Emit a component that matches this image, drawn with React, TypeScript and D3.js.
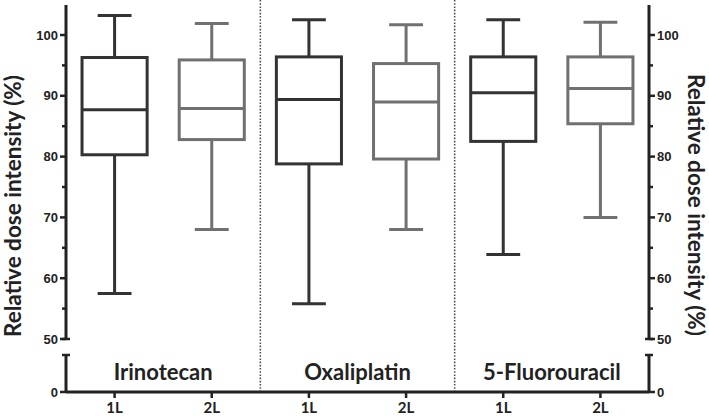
import React from "react";
import * as d3 from "d3";

const drugs = ["Irinotecan", "Oxaliplatin", "5-Fluorouracil"];
const lines = ["1L", "2L"];
const whiskerLow = [57.5, 68.0, 55.8, 68.0, 63.9, 70.0];
const q1 = [80.3, 82.8, 78.8, 79.6, 82.5, 85.4];
const median = [87.7, 87.9, 89.4, 89.0, 90.5, 91.2];
const q3 = [96.3, 95.9, 96.4, 95.3, 96.4, 96.4];
const whiskerHigh = [103.2, 101.9, 102.5, 101.7, 102.5, 102.1];
const majorTicks = [50, 60, 70, 80, 90, 100];
const minorTicks = [55, 65, 75, 85, 95];

const W = 709;
const H = 418;
const left = 66;
const right = 649;
const yTop = 5;
const yBase = 392;
const lowerTop = 355;

const DARK = "#333333";
const GRAY = "#707070";

export default function App() {
  const keys = drugs.flatMap((d) => lines.map((l) => d + "|" + l));
  const x = d3.scaleBand<string>().domain(keys).range([left, right]).paddingInner(0.33).paddingOuter(0.165);
  const xOuter = d3.scaleBand<string>().domain(keys).range([left, right]);
  const xDrug = d3.scaleBand<string>().domain(drugs).range([left, right]);
  const y = d3.scaleLinear().domain([50, 100]).range([339, 35]);
  const yLow = d3.scaleLinear().domain([0, 6]).range([yBase, lowerTop]);

  const bw = x.bandwidth();
  const axisFont = "'Liberation Sans', Arial, sans-serif";
  const labelFont = "Lato, 'Open Sans', sans-serif";

  const axis = (ax: number, dir: number) => (
    <g>
      <line x1={ax} x2={ax} y1={yTop} y2={y(50)} stroke="#222" strokeWidth={3} />
      <line x1={ax - 4} x2={ax + 4} y1={y(50)} y2={y(50)} stroke="#222" strokeWidth={2.5} />
      {majorTicks.map((t) => (
        <g key={t}>
          <line x1={ax} x2={ax + dir * 6} y1={y(t)} y2={y(t)} stroke="#222" strokeWidth={2.5} />
          <text
            x={ax + dir * 8}
            y={y(t)}
            dy="0.36em"
            textAnchor={dir < 0 ? "end" : "start"}
            fontFamily={axisFont}
            fontWeight="bold"
            fontSize={13}
            fill="#222"
          >
            {t}
          </text>
        </g>
      ))}
      {minorTicks.map((t) => (
        <line key={t} x1={ax} x2={ax + dir * 4} y1={y(t)} y2={y(t)} stroke="#222" strokeWidth={2.5} />
      ))}
      <line x1={ax} x2={ax} y1={yLow(6)} y2={yBase} stroke="#222" strokeWidth={3} />
      <line x1={ax - 4} x2={ax + 4} y1={yLow(6)} y2={yLow(6)} stroke="#222" strokeWidth={2.5} />
      <line x1={ax} x2={ax + dir * 6} y1={yLow(0)} y2={yLow(0)} stroke="#222" strokeWidth={2.5} />
      <text
        x={ax + dir * 8}
        y={yLow(0)}
        dy="0.36em"
        textAnchor={dir < 0 ? "end" : "start"}
        fontFamily={axisFont}
        fontWeight="bold"
        fontSize={13}
        fill="#222"
      >
        0
      </text>
    </g>
  );

  return (
    <svg width={W} height={H} style={{ position: "absolute", left: 0, top: 0, background: "#fff" }}>
      {drugs.slice(1).map((d) => (
        <line
          key={d}
          x1={xDrug(d)!}
          x2={xDrug(d)!}
          y1={0}
          y2={yBase}
          stroke="#555"
          strokeWidth={1.6}
          strokeDasharray="1.6,1.6"
        />
      ))}
      {keys.map((k, i) => {
        const x0 = x(k)!;
        const cx = x0 + bw / 2;
        const col = i % 2 === 0 ? DARK : GRAY;
        const cap = bw * 0.52;
        return (
          <g key={k} stroke={col} strokeWidth={3} fill="none">
            <line x1={cx} x2={cx} y1={y(whiskerHigh[i])} y2={y(q3[i])} />
            <line x1={cx} x2={cx} y1={y(q1[i])} y2={y(whiskerLow[i])} />
            <line x1={cx - cap / 2} x2={cx + cap / 2} y1={y(whiskerHigh[i])} y2={y(whiskerHigh[i])} />
            <line x1={cx - cap / 2} x2={cx + cap / 2} y1={y(whiskerLow[i])} y2={y(whiskerLow[i])} />
            <rect x={x0} y={y(q3[i])} width={bw} height={y(q1[i]) - y(q3[i])} fill="#fff" />
            <line x1={x0} x2={x0 + bw} y1={y(median[i])} y2={y(median[i])} />
          </g>
        );
      })}
      <line x1={left} x2={right} y1={yBase} y2={yBase} stroke="#222" strokeWidth={3} />
      {keys.map((k, i) => {
        const cx = xOuter(k)! + xOuter.bandwidth() / 2;
        return (
          <g key={k}>
            <line x1={cx} x2={cx} y1={yBase} y2={yBase + 6} stroke="#222" strokeWidth={2.5} />
            <text
              x={cx}
              y={413}
              textAnchor="middle"
              fontFamily={labelFont}
              fontWeight="bold"
              fontSize={15}
              fill="#222"
            >
              {lines[i % 2]}
            </text>
          </g>
        );
      })}
      {drugs.map((d) => (
        <text
          key={d}
          x={xDrug(d)! + xDrug.bandwidth() / 2}
          y={380}
          textAnchor="middle"
          fontFamily={labelFont}
          fontWeight="bold"
          fontSize={22}
          fill="#222"
        >
          {d}
        </text>
      ))}
      {axis(left, -1)}
      {axis(right, 1)}
      <text
        transform={`translate(21, 206) rotate(-90)`}
        textAnchor="middle"
        fontFamily={labelFont}
        fontWeight="bold"
        fontSize={22.5}
        fill="#222"
      >
        Relative dose intensity (%)
      </text>
      <text
        transform={`translate(688, 205) rotate(90)`}
        textAnchor="middle"
        fontFamily={labelFont}
        fontWeight="bold"
        fontSize={22.5}
        fill="#222"
      >
        Relative dose intensity (%)
      </text>
    </svg>
  );
}
